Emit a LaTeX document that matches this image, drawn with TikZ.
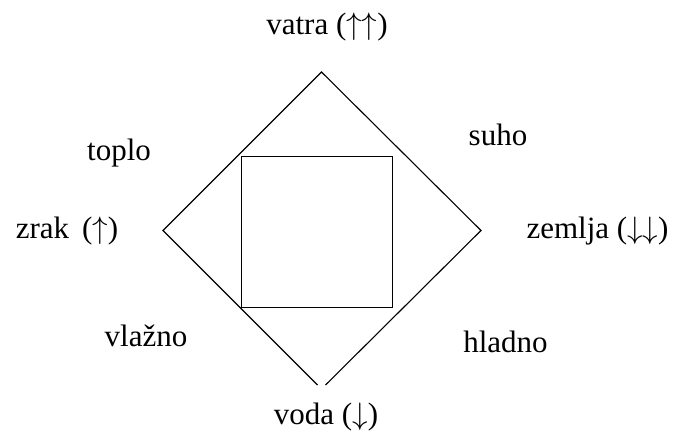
\RequirePackage{fix-cm}
\documentclass[tikz,border=0pt]{standalone}
\usepackage{fontspec}
\setmainfont{Liberation Serif}
\newcommand{\upar}{\ensuremath{\uparrow}}
\newcommand{\dnar}{\ensuremath{\downarrow}}
\begin{document}
\begin{tikzpicture}[x=1pt,y=1pt,
  lbl/.style={inner sep=0pt,anchor=base,font=\fontsize{31}{36}\selectfont},
  edge/.style={line width=1.1pt,line join=miter},
  box/.style={line width=1.4pt}]
\useasboundingbox (0,0) rectangle (676,432);
% diamond corners (image y flipped: y = 432 - y_img)
\coordinate (T) at (321.5,360);
\coordinate (L) at (163,201.5);
\coordinate (R) at (481,201.5);
\coordinate (BL) at (317.5,47);
\coordinate (BR) at (325.5,47);
\draw[edge] (BL) -- (L) -- (T) -- (R) -- (BR);
% inner square
\node[box,draw,minimum width=151pt,minimum height=151pt,inner sep=0pt] (sq) at (317,200) {};
% labels
\node[lbl] (vatra) at (327,397) {vatra (\upar\upar)};
\node[lbl] (toplo) at (119,272) {toplo};
\node[lbl] (suho) at (498,287) {suho};
\node[lbl] (zrak) at (67,194) {zrak\, (\upar)};
\node[lbl] (zemlja) at (597.5,194) {zemlja (\dnar\dnar)};
\node[lbl] (vlazno) at (146,86) {vlažno};
\node[lbl] (hladno) at (505.5,80) {hladno};
\node[lbl] (voda) at (326,8) {voda (\dnar)};
\end{tikzpicture}
\end{document}
